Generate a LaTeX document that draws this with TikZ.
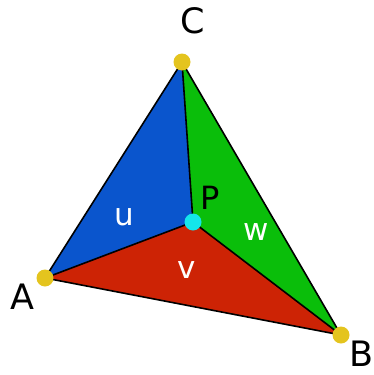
\documentclass[tikz,border=0pt]{standalone}
\usepackage{fontspec}
\setmainfont{DejaVu Sans}
\usepackage{xcolor}
\usepackage{tikz}
\usetikzlibrary{positioning}
\definecolor{tblue}{RGB}{10,85,205}
\definecolor{tred}{RGB}{205,35,5}
\definecolor{tgreen}{RGB}{10,190,10}
\definecolor{tyellow}{RGB}{228,196,30}
\definecolor{tcyan}{RGB}{20,230,235}
\begin{document}
\begin{tikzpicture}[
      x=1pt, y=-1pt,
      vdot/.style={circle, fill=tyellow, inner sep=0pt, minimum size=17pt},
      pdot/.style={circle, fill=tcyan, inner sep=0pt, minimum size=17pt},
      vlab/.style={font=\fontsize{35}{35}\selectfont, inner sep=0pt},
      wlab/.style={font=\fontsize{31}{31}\selectfont, text=white, inner sep=0pt},
      edge/.style={draw=black, line width=1.6pt, line join=round},
  ]
    \useasboundingbox (0,0) rectangle (374,375);
    \coordinate (a) at (45,278);
    \coordinate (b) at (341,335);
    \coordinate (c) at (182,62);
    \coordinate (p) at (193,222);

    % three sub-triangles
    \fill[tblue] (a) -- (c) -- (p) -- cycle;
    \fill[tred] (a) -- (p) -- (b) -- cycle;
    \fill[tgreen] (p) -- (c) -- (b) -- cycle;
    \path[edge] (a) -- (b) -- (c) -- cycle;
    \path[edge] (a) -- (p) -- (b);
    \path[edge] (c) -- (p);

    \node[vdot] (A) at (a) {};
    \node[vdot] (B) at (b) {};
    \node[vdot] (C) at (c) {};
    \node[pdot] (P) at (p) {};

    \node[vlab] (la) at (22,297) {A};
    \node[vlab] (lb) at (362,354) {B};
    \node[vlab] (lc) at (193,21) {C};
    \node[vlab, font=\fontsize{32}{32}\selectfont] (lp) at (210,198) {P};

    \node[wlab] (u) at (124,217) {u};
    \node[wlab] (v) at (187,270) {v};
    \node[wlab] (w) at (256,232) {w};
  \end{tikzpicture}
\end{document}
